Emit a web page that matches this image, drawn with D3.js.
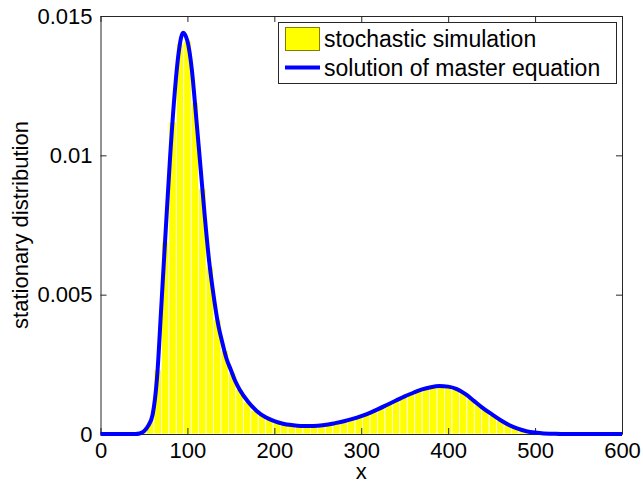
<!DOCTYPE html>
<html>
<head>
<meta charset="utf-8">
<script src="https://cdn.jsdelivr.net/npm/d3@7"></script>
<style>
  body { margin: 0; background: #fff; }
  svg text { font-family: "Liberation Sans", Arial, sans-serif; fill: #000; }
</style>
</head>
<body>
<div id="chart"></div>
<script>
// master equation solution
let curveX = [0, 40, 45, 50, 55, 60, 65, 70, 75, 80, 85, 90, 95, 100, 105, 110, 115, 120, 125, 130,
  135, 140, 145, 150, 155, 160, 170, 180, 190, 200, 210, 220, 230, 240, 250, 260, 270, 280, 290, 300,
  310, 320, 330, 340, 350, 360, 370, 380, 390, 400, 410, 420, 430, 440, 450, 460, 470, 480, 490, 500,
  510, 520, 530, 600]
let curveY = [0, 0, 0.00002, 0.0001, 0.0003, 0.0007, 0.002, 0.0046, 0.0073, 0.0099, 0.0121, 0.0137, 0.0144, 0.0141, 0.0131, 0.0114, 0.0096, 0.0078, 0.0062, 0.005,
  0.004, 0.0033, 0.0027, 0.0023, 0.0019, 0.0016, 0.00115, 0.00082, 0.0006, 0.00046, 0.00037, 0.00032, 0.00029, 0.00029, 0.0003, 0.00033, 0.00039, 0.00046, 0.00054, 0.00064,
  0.00076, 0.0009, 0.00105, 0.0012, 0.00135, 0.00148, 0.0016, 0.00168, 0.00172, 0.0017, 0.00161, 0.00143, 0.00118, 0.00093, 0.00071, 0.0005, 0.00032, 0.00019, 0.0001, 0.00005,
  0.00002, 0.00001, 0, 0]

// histogram of the stochastic simulation
let binStart = 1.5
let binWidth = 600 / 70
let binHeights = [0, 0, 0, 0, 0, 0.00007, 0.00045, 0.0023, 0.0069, 0.0112,
  0.014, 0.0141, 0.0119, 0.0088, 0.006, 0.0041, 0.003, 0.0022, 0.0016, 0.00115,
  0.00085, 0.00068, 0.00053, 0.00043, 0.00036, 0.00031, 0.00029, 0.00029, 0.00029, 0.00032,
  0.00035, 0.0004, 0.00046, 0.00053, 0.00062, 0.00072, 0.00084, 0.00096, 0.00108, 0.0012,
  0.00133, 0.00145, 0.00155, 0.00164, 0.00169, 0.00172, 0.0017, 0.00162, 0.00148, 0.00128,
  0.00107, 0.00087, 0.00068, 0.0005, 0.00034, 0.00022, 0.00013, 0.00007, 0.00004, 0.00002,
  0.00001, 0, 0, 0, 0, 0, 0, 0, 0, 0]

let xTicks = [0, 100, 200, 300, 400, 500, 600]
let yTicks = [0, 0.005, 0.01, 0.015]
let yTickLabels = ['0', '0.005', '0.01', '0.015']
let legendLabels = ['stochastic simulation', 'solution of master equation']

let width = 643
let height = 484
let plotLeft = 100.5
let plotRight = 622
let plotTop = 16
let plotBottom = 434

let svg = d3.select('#chart')
  .append('svg')
  .attr('width', width)
  .attr('height', height)

let x = d3.scaleLinear().domain([0, 600]).range([plotLeft, plotRight])
let y = d3.scaleLinear().domain([0, 0.015]).range([plotBottom, plotTop])

// bars
let bins = binHeights.map(function (h, i) {
  return { x0: binStart + i * binWidth, x1: binStart + (i + 1) * binWidth, h: h }
}).filter(function (d) { return d.h > 0 })

svg.append('g')
  .selectAll('rect')
  .data(bins)
  .enter()
  .append('rect')
  .attr('x', function (d) { return x(d.x0) })
  .attr('width', function (d) { return x(d.x1) - x(d.x0) })
  .attr('y', function (d) { return y(d.h) })
  .attr('height', function (d) { return y(0) - y(d.h) })
  .style('fill', '#ffff00')
  .style('stroke', '#fff')
  .style('stroke-width', 0.8)

// axes (MATLAB style box, ticks inside)
let axisColor = '#262626'
function styleAxis(g, showText) {
  g.selectAll('path').style('stroke', axisColor)
  g.selectAll('line').style('stroke', axisColor)
  g.selectAll('text').style('font-size', '22px')
  if (!showText) g.selectAll('text').remove()
}

svg.append('g')
  .attr('transform', 'translate(0,' + plotBottom + ')')
  .call(d3.axisBottom(x).tickValues(xTicks).tickSize(-6).tickSizeOuter(0).tickPadding(8).tickFormat(d3.format('d')))
  .call(function (g) { styleAxis(g, true) })

svg.append('g')
  .attr('transform', 'translate(0,' + plotTop + ')')
  .call(d3.axisTop(x).tickValues(xTicks).tickSize(-6).tickSizeOuter(0))
  .call(function (g) { styleAxis(g, false) })

svg.append('g')
  .attr('transform', 'translate(' + plotLeft + ',0)')
  .call(d3.axisLeft(y).tickValues(yTicks).tickSize(-6).tickSizeOuter(0).tickPadding(8)
    .tickFormat(function (d, i) { return yTickLabels[i] }))
  .call(function (g) { styleAxis(g, true) })

svg.append('g')
  .attr('transform', 'translate(' + plotRight + ',0)')
  .call(d3.axisRight(y).tickValues(yTicks).tickSize(-6).tickSizeOuter(0))
  .call(function (g) { styleAxis(g, false) })

svg.selectAll('.domain').style('stroke-width', 1)

// master equation curve
let points = curveX.map(function (v, i) { return [v, curveY[i]] })
let line = d3.line()
  .x(function (d) { return x(d[0]) })
  .y(function (d) { return y(d[1]) })
  .curve(d3.curveMonotoneX)

svg.append('path')
  .datum(points)
  .attr('d', line)
  .style('fill', 'none')
  .style('stroke', '#0000ff')
  .style('stroke-width', 4)
  .style('stroke-linejoin', 'round')

// axis labels
svg.append('text')
  .attr('x', (plotLeft + plotRight) / 2)
  .attr('y', 479)
  .attr('text-anchor', 'middle')
  .style('font-size', '22px')
  .text('x')

svg.append('text')
  .attr('transform', 'translate(28,' + (plotTop + plotBottom) / 2 + ') rotate(-90)')
  .attr('text-anchor', 'middle')
  .style('font-size', '22px')
  .text('stationary distribution')

// legend
let legend = svg.append('g')
legend.append('rect')
  .attr('x', 278.5)
  .attr('y', 22.5)
  .attr('width', 338)
  .attr('height', 61)
  .style('fill', '#fff')
  .style('stroke', axisColor)
  .style('stroke-width', 1)

legend.append('rect')
  .attr('x', 285.5)
  .attr('y', 27.5)
  .attr('width', 34)
  .attr('height', 23)
  .style('fill', '#ffff00')
  .style('stroke', '#808000')
  .style('stroke-width', 1)

legend.append('line')
  .attr('x1', 285)
  .attr('x2', 320)
  .attr('y1', 67.5)
  .attr('y2', 67.5)
  .style('stroke', '#0000ff')
  .style('stroke-width', 4)

legend.selectAll('.leg-text')
  .data(legendLabels)
  .enter()
  .append('text')
  .attr('class', 'leg-text')
  .attr('x', 324)
  .attr('y', function (d, i) { return 47 + i * 29 })
  .style('font-size', '23px')
  .text(function (d) { return d })
</script>
</body>
</html>
